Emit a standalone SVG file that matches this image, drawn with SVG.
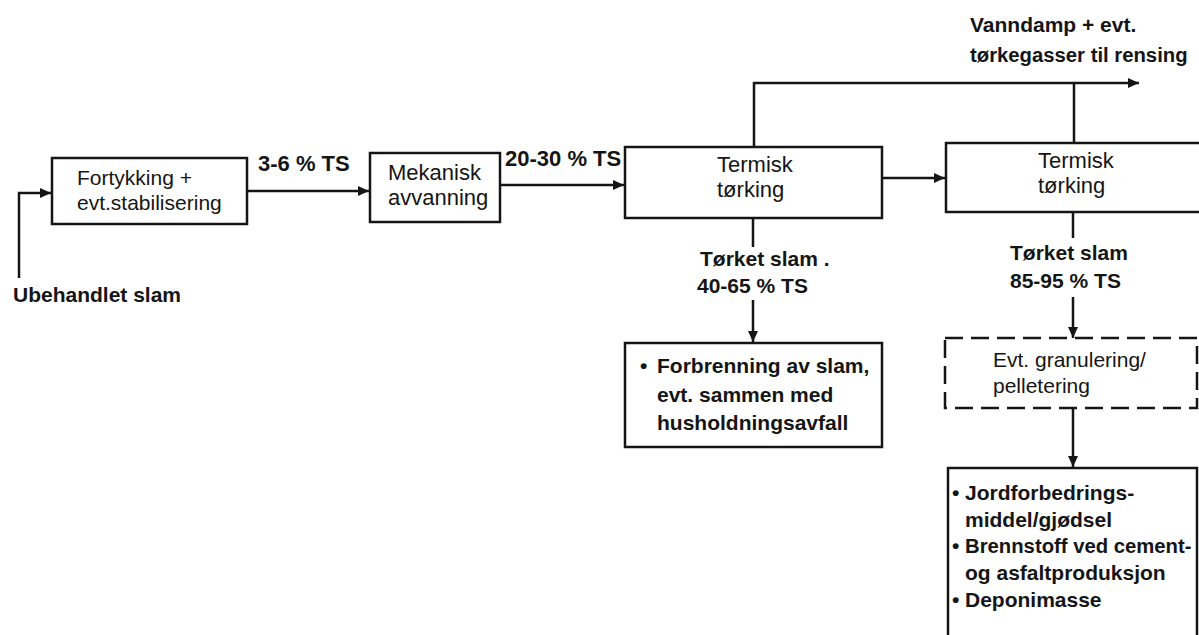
<svg xmlns="http://www.w3.org/2000/svg" width="1199" height="635" viewBox="0 0 1199 635">
<style>
.box{fill:none;stroke:#151515;stroke-width:2.5}
.dash{fill:none;stroke:#151515;stroke-width:2.5;stroke-dasharray:18 8}
.ln{fill:none;stroke:#151515;stroke-width:2.5}
text{font-family:"Liberation Sans",Arial,sans-serif;fill:#151515}
.n{font-size:21px}
.nb{font-size:22px}
.b{font-size:21px;font-weight:bold}
.bl{font-size:22px;font-weight:bold}
</style>
<defs>
<marker id="ah" markerUnits="userSpaceOnUse" markerWidth="12" markerHeight="10" refX="11" refY="5" orient="auto">
<path d="M0,0 L11,5 L0,10 z" fill="#151515"/>
</marker>
</defs>
<rect width="1199" height="635" fill="#fff"/>
<g id="connectors">
<path class="ln" d="M19,278 V193 H51" marker-end="url(#ah)"/>
<path class="ln" d="M247,191 H369" marker-end="url(#ah)"/>
<path class="ln" d="M500,185 H624" marker-end="url(#ah)"/>
<path class="ln" d="M882,178 H945" marker-end="url(#ah)"/>
<path class="ln" d="M754,147 V83 H1139" marker-end="url(#ah)"/>
<path class="ln" d="M1074,143 V83"/>
<path class="ln" d="M753,218 V247"/>
<path class="ln" d="M753,300 V342" marker-end="url(#ah)"/>
<path class="ln" d="M1073,212 V238"/>
<path class="ln" d="M1073,297 V338" marker-end="url(#ah)"/>
<path class="ln" d="M1073,408 V467" marker-end="url(#ah)"/>
</g>
<g id="input">
<text class="b" x="13" y="302">Ubehandlet slam</text>
</g>
<g id="fortykking">
<rect class="box" x="52" y="158" width="195" height="66"/>
<text class="n" x="77" y="185">Fortykking +</text>
<text class="n" x="77" y="210">evt.stabilisering</text>
</g>
<g id="label-3-6">
<text class="bl" x="258" y="171">3-6 % TS</text>
</g>
<g id="mekanisk">
<rect class="box" x="370" y="153" width="130" height="69"/>
<text class="nb" x="388" y="180">Mekanisk</text>
<text class="nb" x="388" y="205">avvanning</text>
</g>
<g id="label-20-30">
<text class="bl" x="505" y="166">20-30 % TS</text>
</g>
<g id="termisk1">
<rect class="box" x="625" y="147" width="257" height="71"/>
<text class="nb" x="717" y="172">Termisk</text>
<text class="nb" x="717" y="197">tørking</text>
</g>
<g id="termisk2">
<rect class="box" x="946" y="143" width="270" height="69"/>
<text class="nb" x="1038" y="168">Termisk</text>
<text class="nb" x="1038" y="193">tørking</text>
</g>
<g id="vanndamp">
<text class="b" x="970" y="32">Vanndamp + evt.</text>
<text class="b" x="970" y="62" style="font-size:20.3px">tørkegasser til rensing</text>
</g>
<g id="torket1">
<text class="b" x="700" y="266">Tørket slam .</text>
<text class="b" x="697" y="293">40-65 % TS</text>
</g>
<g id="forbrenning">
<rect class="box" x="625" y="343" width="257" height="104"/>
<text class="b" x="640" y="373">•</text>
<text class="b" x="657" y="373">Forbrenning av slam,</text>
<text class="b" x="657" y="402">evt. sammen med</text>
<text class="b" x="657" y="430">husholdningsavfall</text>
</g>
<g id="torket2">
<text class="b" x="1010" y="260">Tørket slam</text>
<text class="b" x="1010" y="288">85-95 % TS</text>
</g>
<g id="granulering">
<rect class="dash" x="945" y="338" width="252" height="70"/>
<text class="n" x="993" y="367">Evt. granulering/</text>
<text class="n" x="993" y="393">pelletering</text>
</g>
<g id="anvendelse">
<path class="box" d="M948,640 V468 H1197 V640"/>
<text class="b" x="952" y="500">•</text>
<text class="b" x="965" y="500">Jordforbedrings-</text>
<text class="b" x="965" y="527">middel/gjødsel</text>
<text class="b" x="952" y="553">•</text>
<text class="b" x="965" y="553" style="font-size:20.3px">Brennstoff ved cement-</text>
<text class="b" x="965" y="580">og asfaltproduksjon</text>
<text class="b" x="952" y="607">•</text>
<text class="b" x="965" y="607">Deponimasse</text>
</g>
</svg>
